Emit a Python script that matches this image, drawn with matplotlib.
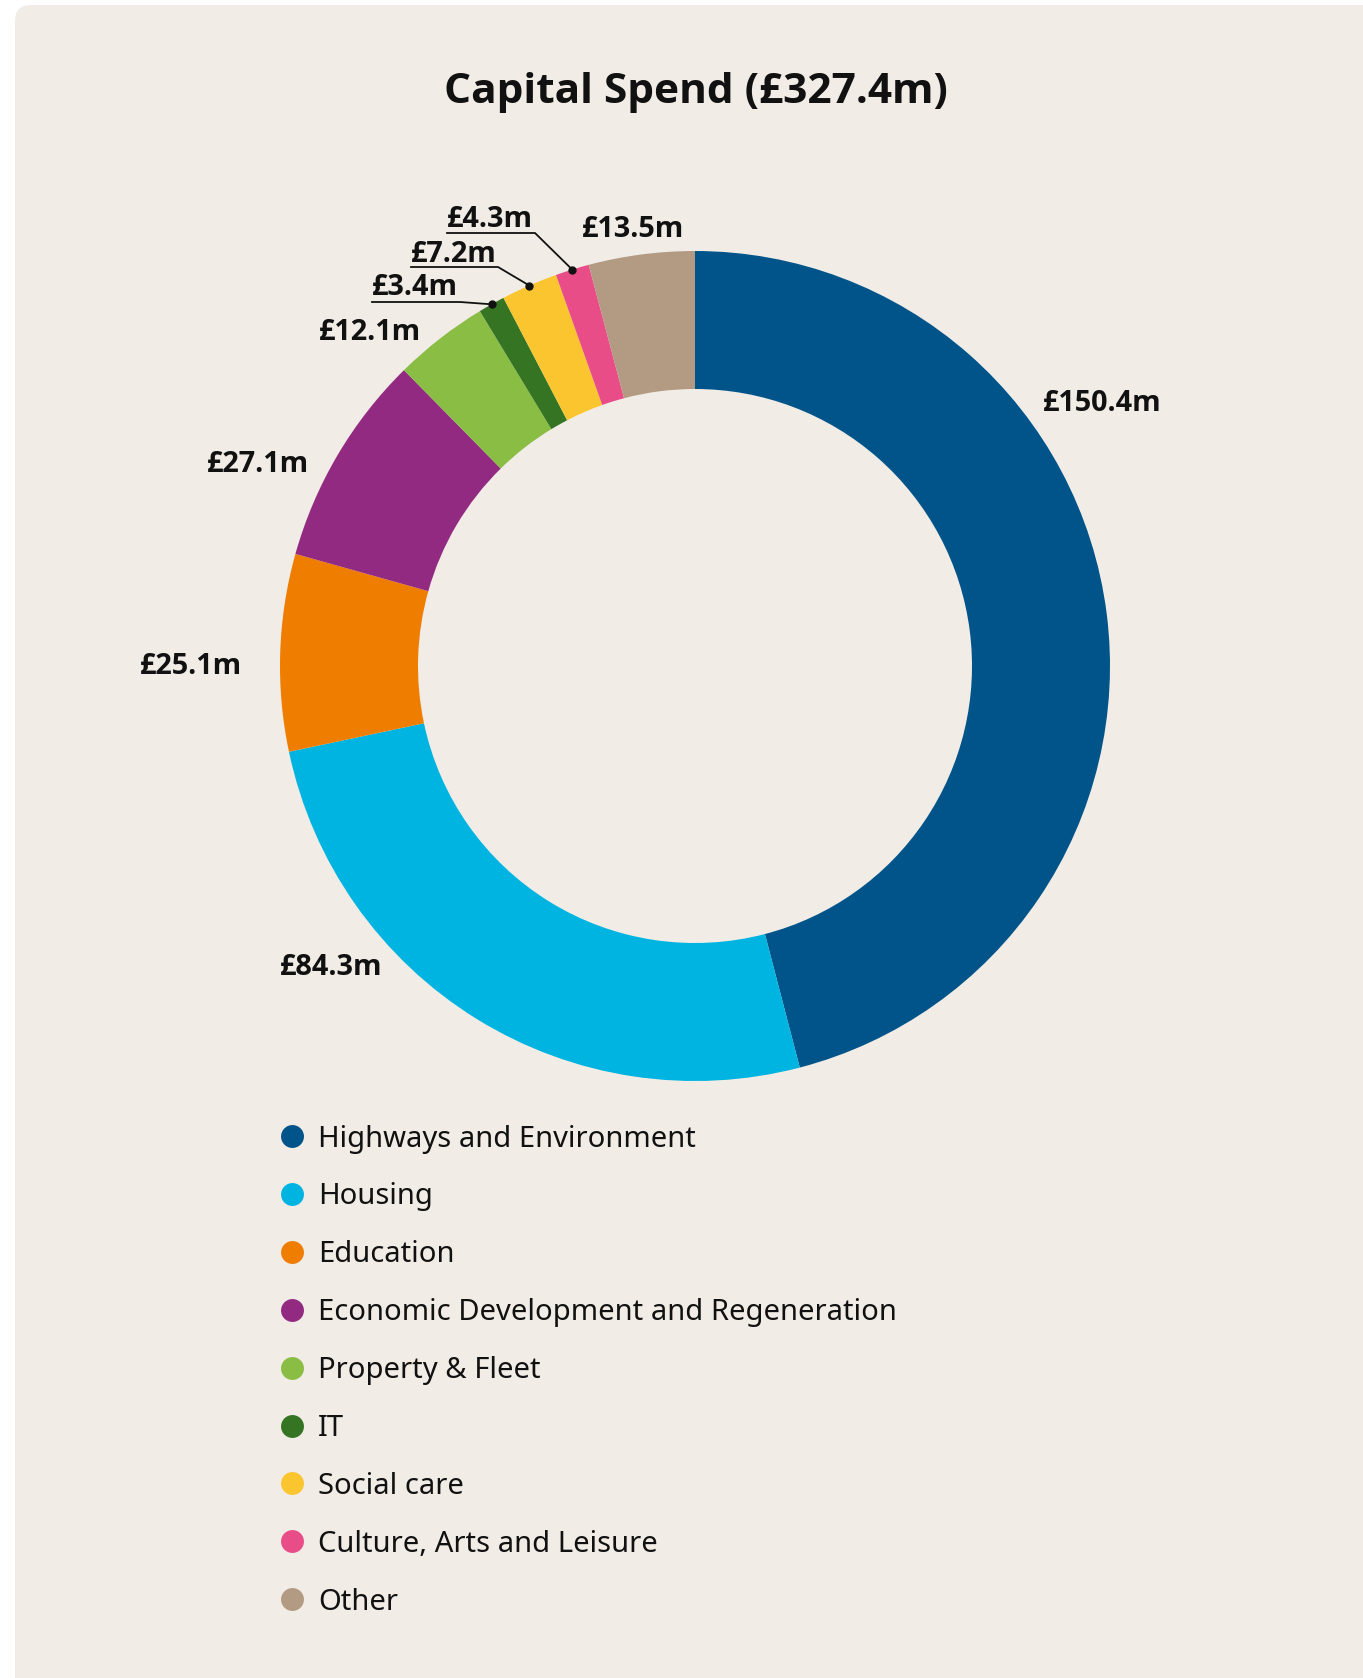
import numpy as np
import matplotlib
matplotlib.use("Agg")
import matplotlib.pyplot as plt
from matplotlib.patches import FancyBboxPatch

plt.rcParams["font.family"] = ["Noto Sans", "DejaVu Sans"]
BOLD = ["Open Sans", "DejaVu Sans"]

# data
categories = ["Highways and Environment", "Housing", "Education",
              "Economic Development and Regeneration", "Property & Fleet",
              "IT", "Social care", "Culture, Arts and Leisure", "Other"]
values = [150.4, 84.3, 25.1, 27.1, 12.1, 3.4, 7.2, 4.3, 13.5]
colors = ["#00548A", "#00B4E1", "#EF7D00", "#922A81", "#89BD43",
          "#347423", "#FBC52F", "#E94D88", "#B39A82"]
title = "Capital Spend (£327.4m)"

W, H = 1363, 1678
BG = "#F1ECE6"

def Y(y):
    # picture rows (top down) -> axis units (bottom up)
    return H - y

fig = plt.figure(figsize=(W / 100, H / 100), dpi=100)
fig.patch.set_facecolor("white")
ax = fig.add_axes([0, 0, 1, 1])

card = FancyBboxPatch((15, Y(1720)), 1420, 1715, boxstyle="round,pad=0,rounding_size=16",
                      facecolor=BG, edgecolor="none", zorder=0)
ax.add_patch(card)

cx, cy, R, ring = 695, 666, 415, 138
ax.pie(values, colors=colors, startangle=90, counterclock=False, radius=R,
       center=(cx, Y(cy)), frame=True,
       wedgeprops=dict(width=ring, linewidth=0))
ax.set_xlim(0, W)
ax.set_ylim(0, H)
ax.set_aspect("equal")
ax.axis("off")

ax.text(696, Y(103), title, ha="center", va="baseline", fontsize=30.5,
        fontweight="bold", family=BOLD, color="#111111")

total = sum(values)
cum = np.cumsum([0] + values)
mid_angles = [90 - 360 * (cum[i] + values[i] / 2) / total for i in range(len(values))]

labels = ["£%.1fm" % v for v in values]
# plain labels: (x, baseline, ha)
plain = {0: (1043, 411, "left"), 1: (382, 975, "right"), 2: (242, 674, "right"),
         3: (309, 472, "right"), 4: (421, 340, "right"), 8: (633, 237, "center")}
for i, (x, yb, ha) in plain.items():
    ax.text(x, Y(yb), labels[i], ha=ha, va="baseline", fontsize=20.8,
            fontweight="bold", family=BOLD, color="#111111")

# small slices with underline + leader line
leader = {5: (372, 295, 460, 302), 6: (411, 262, 498, 267), 7: (447, 227, 535, 233)}
for i, (x0, yb, x1, yu) in leader.items():
    ax.text(x0, Y(yb), labels[i], ha="left", va="baseline", fontsize=20.8,
            fontweight="bold", family=BOLD, color="#111111")
    a = np.radians(mid_angles[i])
    dx, dy = cx + R * np.cos(a), Y(cy) + R * np.sin(a)
    ax.plot([x0, x1, dx], [Y(yu), Y(yu), dy], color="#111111", lw=1.3,
            solid_joinstyle="miter", zorder=5)
    ax.plot([dx], [dy], "o", color="#111111", ms=5, zorder=6)

# legend
for i, (name, col) in enumerate(zip(categories, colors)):
    yc = 1136 + i * 57.9
    ax.plot([291.5], [Y(yc)], "o", color=col, ms=16.5, mec="none")
    ax.text(318, Y(yc + 10.5), name, ha="left", va="baseline", fontsize=21,
            color="#111111")

fig.savefig("out.png", dpi=100, facecolor="white")
